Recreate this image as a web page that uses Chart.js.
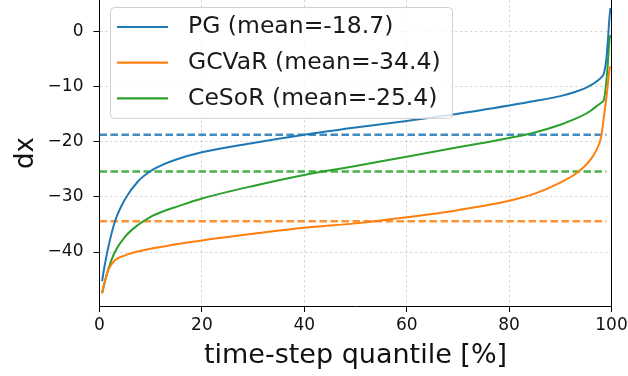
<!DOCTYPE html>
<html><head><meta charset="utf-8">
<script src="https://cdn.jsdelivr.net/npm/chart.js@4.4.1/dist/chart.umd.min.js"></script>
<style>html,body{margin:0;padding:0;background:#fff;overflow:hidden}</style>
</head><body>
<canvas id="c" width="628" height="376"></canvas>
<script>
// ---- data ----
const quantiles = [0.5, 1, 1.7, 3, 5, 7.5, 10, 12.5, 15, 20, 30, 40, 50, 60, 70, 80, 85, 90, 93, 95, 96, 97, 98, 98.5, 99, 99.3, 99.6, 99.8];
const pgValues    = [-45.3, -42.5, -39.2, -34.5, -30.4, -27.2, -25.3, -24.1, -23.2, -21.9, -20.2, -18.7, -17.4, -16.2, -14.9, -13.4, -12.6, -11.7, -10.9, -10.2, -9.7, -9.1, -8.3, -7.6, -5.0, -1.5, 2.5, 4.3];
const gcvarValues = [-47.5, -45.5, -43.3, -41.5, -40.6, -39.9, -39.4, -39.0, -38.6, -37.9, -36.7, -35.6, -34.8, -33.7, -32.4, -30.7, -29.4, -27.4, -25.8, -24.2, -23.1, -21.6, -19.0, -15.5, -12.0, -9.5, -6.8, -6.3];
const cesorValues = [-47.5, -45.6, -43.2, -40.0, -37.2, -35.1, -33.6, -32.6, -31.8, -30.3, -28.0, -26.0, -24.4, -22.7, -21.0, -19.3, -18.3, -16.9, -15.8, -14.9, -14.3, -13.6, -12.9, -12.4, -9.0, -5.5, -1.5, -0.6];
const seriesNames = ['PG', 'GCVaR', 'CeSoR'];
const seriesMeans = [-18.7, -34.4, -25.4];
const meanLineRange = [0, 99];
const xTickValues = [0, 20, 40, 60, 80, 100];
const yTickValues = [0, -10, -20, -30, -40];

// ---- styles ----
const colors = ['#1f77b4', '#ff7f0e', '#2ca02c'];
const meanColors = ['rgba(31,119,180,0.85)', 'rgba(255,127,14,0.85)', 'rgba(44,160,44,0.85)'];
const FONT = '"DejaVu Sans", sans-serif';
Chart.defaults.font.family = FONT;
Chart.defaults.color = '#111';

const seriesValues = [pgValues, gcvarValues, cesorValues];
const toPoints = (xs, ys) => xs.map((x, i) => ({x: x, y: ys[i]}));

const datasets = [];
seriesNames.forEach((name, i) => {
  datasets.push({
    label: name + ' (mean=' + seriesMeans[i] + ')',
    inLegend: true,
    data: toPoints(quantiles, seriesValues[i]),
    borderColor: colors[i],
    backgroundColor: colors[i],
    borderWidth: 2,
    pointRadius: 0,
    cubicInterpolationMode: 'monotone',
    fill: false
  });
});
seriesNames.forEach((name, i) => {
  datasets.push({
    label: name + ' mean',
    inLegend: false,
    data: meanLineRange.map(x => ({x: x, y: seriesMeans[i]})),
    borderColor: meanColors[i],
    borderWidth: 2.5,
    borderDash: [7.5, 3.5],
    pointRadius: 0,
    fill: false
  });
});

// matplotlib-like legend box drawn inside the plot
const legendBox = {
  id: 'legendBox',
  afterDatasetsDraw(chart) {
    const ctx = chart.ctx;
    const items = chart.data.datasets.filter(d => d.inLegend);
    const fontSize = 23.5;
    const left = 110.5, top = 7.5, rowH = 35.7, firstRow = 27;
    const handleX = 117, handleW = 51, textX = 188;
    ctx.save();
    ctx.font = fontSize + 'px ' + FONT;
    const maxW = Math.max(...items.map(d => ctx.measureText(d.label).width));
    const right = textX + maxW + 12;
    const bottom = firstRow + rowH * (items.length - 1) + 20;
    ctx.beginPath();
    ctx.roundRect(left, top, right - left, bottom - top, 4);
    ctx.fillStyle = 'rgba(255,255,255,0.8)';
    ctx.fill();
    ctx.strokeStyle = '#d0d0d0';
    ctx.lineWidth = 1;
    ctx.stroke();
    items.forEach((d, i) => {
      const y = firstRow + i * rowH;
      ctx.strokeStyle = d.borderColor;
      ctx.lineWidth = 2.2;
      ctx.beginPath();
      ctx.moveTo(handleX, y);
      ctx.lineTo(handleX + handleW, y);
      ctx.stroke();
      ctx.fillStyle = '#1a1a1a';
      ctx.textBaseline = 'middle';
      ctx.textAlign = 'left';
      ctx.fillText(d.label, textX, y);
    });
    ctx.restore();
  }
};

const minus = v => (v < 0 ? '\u2212' + Math.abs(v) : String(v));

new Chart(document.getElementById('c'), {
  type: 'line',
  data: {datasets: datasets},
  plugins: [legendBox],
  options: {
    responsive: false,
    animation: false,
    devicePixelRatio: 1,
    layout: {padding: {left: 0, right: 16.5, top: 0, bottom: 0}},
    plugins: {legend: {display: false}, tooltip: {enabled: false}},
    scales: {
      x: {
        type: 'linear', min: 0, max: 100,
        afterBuildTicks: s => { s.ticks = xTickValues.map(v => ({value: v})); },
        afterFit: s => { s.height = 70; s.paddingLeft = 0; s.paddingRight = 0; },
        ticks: {font: {size: 17}, padding: 3, color: '#111', maxRotation: 0, callback: v => minus(v)},
        grid: {color: 'rgba(0,0,0,0.16)', lineWidth: 1, tickLength: 6, tickColor: '#000', tickBorderDash: [], tickWidth: 1},
        border: {color: '#000', width: 1, dash: [2.5, 2.5]},
        title: {display: true, text: 'time-step quantile [%]', font: {size: 27}, color: '#111', padding: {top: 0, bottom: 3.6}}
      },
      y: {
        type: 'linear', min: -49.8, max: 5.75,
        afterBuildTicks: s => { s.ticks = yTickValues.map(v => ({value: v})); },
        afterFit: s => { s.width = 99.5; s.paddingTop = 0; s.paddingBottom = 0; },
        ticks: {font: {size: 17}, padding: 10, color: '#111', callback: v => minus(v)},
        grid: {color: 'rgba(0,0,0,0.16)', lineWidth: 1, tickLength: 6, tickColor: '#000', tickBorderDash: [], tickWidth: 1},
        border: {color: '#000', width: 1, dash: [2.5, 2.5]},
        title: {display: true, text: 'dx', font: {size: 26}, color: '#111', padding: {top: 10.4, bottom: 0}}
      },
      yRight: {
        type: 'linear', position: 'right', min: -49.8, max: 5.75,
        afterFit: s => { s.width = 0; s.paddingTop = 0; s.paddingBottom = 0; },
        ticks: {display: false},
        grid: {display: false, drawTicks: false},
        border: {display: true, color: '#000', width: 1}
      }
    }
  }
});
</script>
</body></html>
